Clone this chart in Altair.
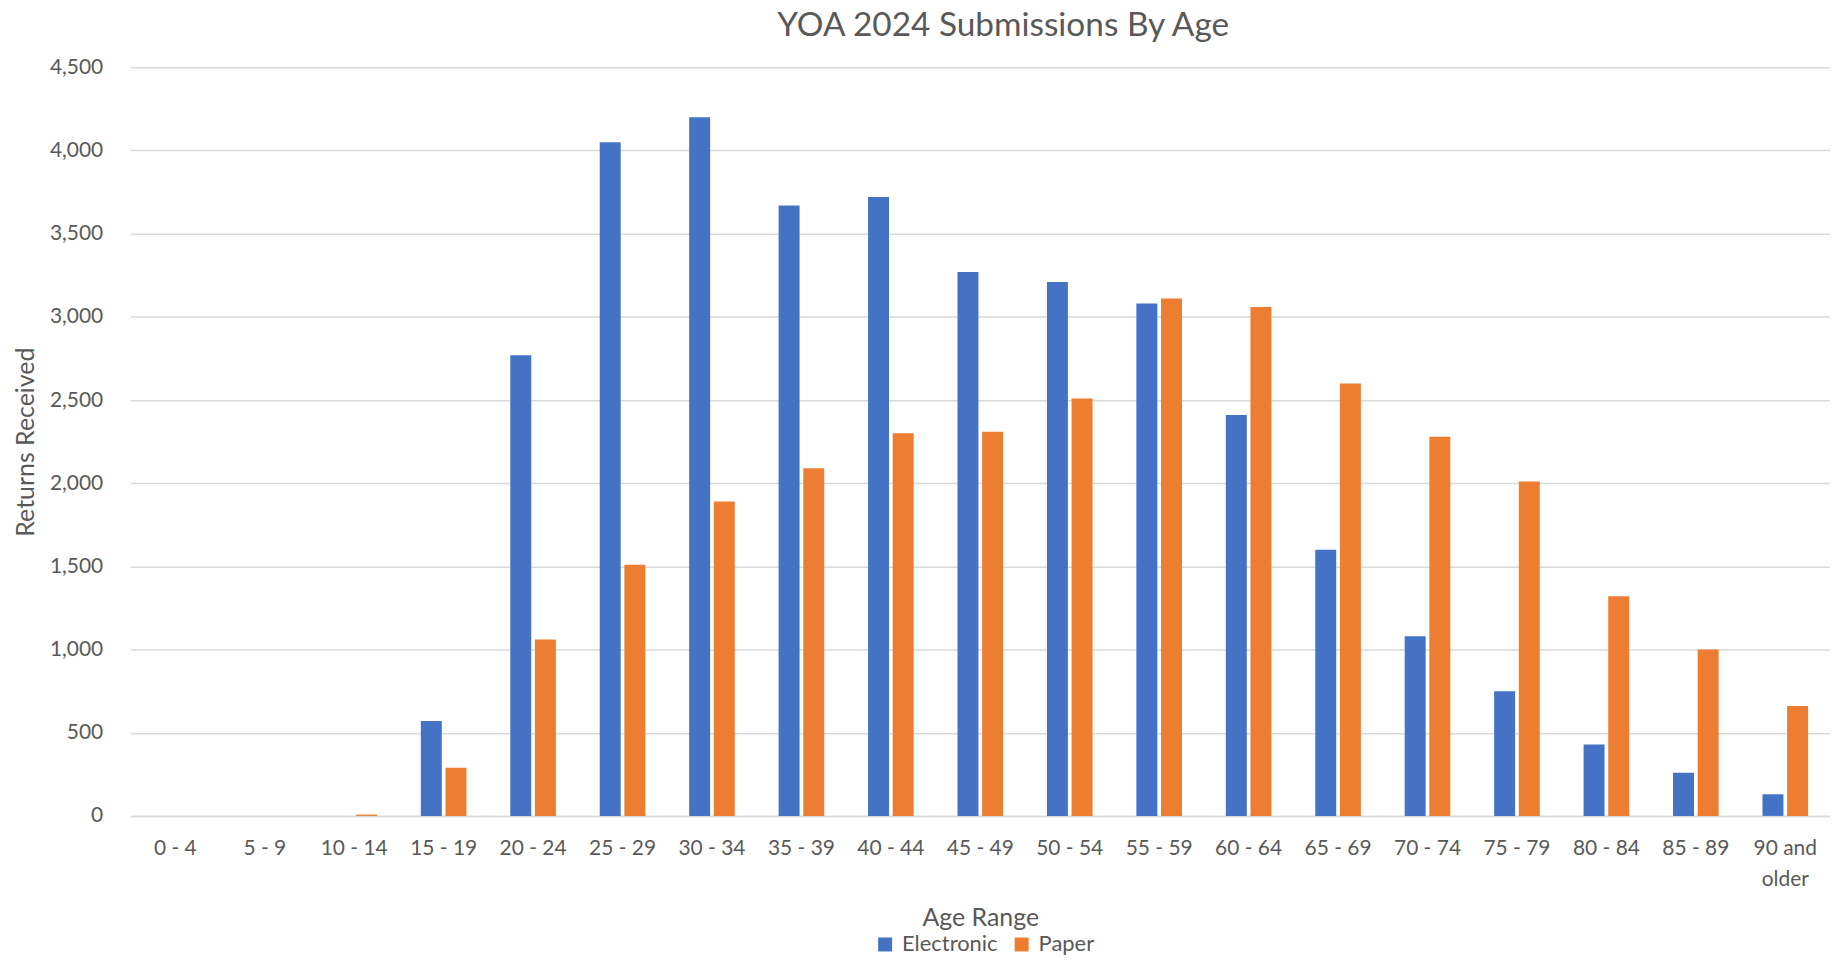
import altair as alt
import pandas as pd

# ---- data ----
age_ranges = ["0 - 4", "5 - 9", "10 - 14", "15 - 19", "20 - 24", "25 - 29", "30 - 34",
              "35 - 39", "40 - 44", "45 - 49", "50 - 54", "55 - 59", "60 - 64", "65 - 69",
              "70 - 74", "75 - 79", "80 - 84", "85 - 89", "90 and older"]
electronic = [0, 0, 0, 570, 2770, 4050, 4200, 3670, 3720, 3270, 3210, 3080, 2410, 1600,
              1080, 750, 430, 260, 130]
paper = [0, 0, 8, 290, 1060, 1510, 1890, 2090, 2300, 2310, 2510, 3110, 3060, 2600,
         2280, 2010, 1320, 1000, 660]
series = ["Electronic", "Paper"]
colors = ["#4472C4", "#ED7D31"]
y_ticks = [0, 500, 1000, 1500, 2000, 2500, 3000, 3500, 4000, 4500]

rows = []
for i, a in enumerate(age_ranges):
    rows.append({"age": a, "series": "Electronic", "value": electronic[i]})
    rows.append({"age": a, "series": "Paper", "value": paper[i]})
df = pd.DataFrame(rows)

FONT = "Lato"
TEXT = "#595959"
GRID = "#D9D9D9"

chart = alt.Chart(df).mark_bar().encode(
    x=alt.X(
        "age:N", sort=age_ranges,
        scale=alt.Scale(paddingInner=0.49, paddingOuter=0.245),
        axis=alt.Axis(
            title="Age Range", labelAngle=0, ticks=False, labelPadding=22,
            domainColor=GRID, domainWidth=1.5, grid=False,
            labelExpr="datum.value == '90 and older' ? ['90 and', 'older'] : datum.value",
            labelLineHeight=31, titleY=102, titleBaseline="middle",
        ),
    ),
    xOffset=alt.XOffset("series:N", sort=series, scale=alt.Scale(paddingInner=0.15)),
    y=alt.Y(
        "value:Q", scale=alt.Scale(domain=[0, 4500], nice=False),
        axis=alt.Axis(
            title="Returns Received", values=y_ticks, format=",d", ticks=False,
            domain=False, labelPadding=28, gridColor=GRID, gridWidth=1.5,
            titleX=-105, titleBaseline="middle",
        ),
    ),
    color=alt.Color(
        "series:N", sort=series,
        scale=alt.Scale(domain=series, range=colors),
        legend=alt.Legend(
            title=None, orient="none", legendX=746, legendY=869,
            direction="horizontal", symbolType="square", symbolSize=196,
            symbolStrokeWidth=0, columnPadding=13, labelOffset=6,
            labelFont=FONT, labelFontSize=22, labelColor=TEXT,
        ),
    ),
).properties(
    width=1705,
    height=751,
    autosize=alt.AutoSizeParams(type="none"),
    padding={"left": 123, "top": 58, "right": 0, "bottom": 143},
    title=alt.TitleParams(
        "YOA 2024 Submissions By Age", font=FONT, fontSize=33.5, color=TEXT,
        fontWeight="normal", anchor="middle", offset=13, dx=23,
    ),
).configure_view(stroke=None).configure_axis(
    labelFont=FONT, labelFontSize=21, labelColor=TEXT,
    titleFont=FONT, titleFontSize=25, titleColor=TEXT, titleFontWeight="normal",
)

chart.save("out.html", embed_options={"renderer": "svg", "actions": False})
